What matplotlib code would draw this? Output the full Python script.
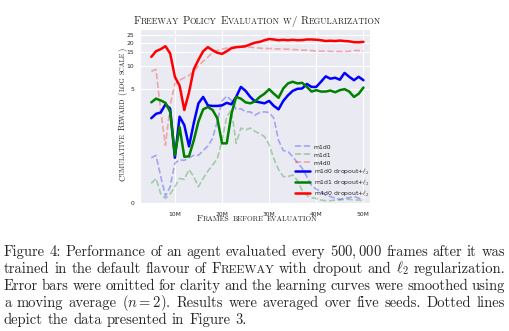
import numpy as np
import matplotlib
matplotlib.use('Agg')
import matplotlib.pyplot as plt
import seaborn as sns

##################### data

frames_m = list(range(5, 51))   # evaluation points, millions of frames

m1d0 = [0.5, 0.55, 0.21, 0.04, 0.11, 0.4, 0.46, 0.45, 0.5, 0.55, 0.55, 0.66, 0.78, 1.03,
        1.8, 3.45, 4.0, 3.5, 2.65, 2.7, 2.45, 2.45, 2.2, 2.4, 2.45, 2.4, 2.0, 0.95, 0.66,
        0.64, 0.52, 0.41, 0.32, 0.21, 0.12, 0.09, 0.07, 0.045, 0.037, 0.027, 0.02, 0.027,
        0.03, 0.037, 0.027, 0.016]
m1d1 = [0.14, 0.19, 0.055, 0.025, 0.055, 0.11, 0.19, 0.18, 0.30, 0.21, 0.11, 0.19, 0.28,
        0.37, 0.48, 0.95, 2.1, 2.6, 0.86, 1.45, 1.36, 1.45, 1.3, 1.2, 1.09, 0.82, 0.48, 0.30,
        0.21, 0.21, 0.23, 0.17, 0.08, 0.045, 0.03, 0.025, 0.016, 0.012, 0.012, 0.016, 0.016,
        0.02, 0.02, 0.016, 0.016, 0.012]
m4d0 = [8.5, 9.0, 2.5, 0.8, 3.0, 5.8, 6.5, 7.0, 7.5, 8.5, 10.0, 11.5, 13.0, 15.0, 15.8,
        16.5, 17.0, 17.2, 17.3, 17.5, 17.4, 17.5, 17.2, 17.0, 16.8, 16.8, 16.7, 16.6, 16.5,
        16.5, 16.3, 16.2, 16.0, 16.0, 15.8, 15.6, 15.5, 15.5, 15.4, 15.3, 15.4, 15.2, 15.5,
        15.8, 15.8, 15.7]
m1d0_reg = [2.0, 2.3, 2.4, 3.1, 2.7, 0.5, 2.1, 1.6, 0.77, 1.7, 3.2, 3.9, 3.0, 2.95, 2.95,
            3.0, 3.25, 3.1, 3.9, 5.3, 4.7, 3.9, 3.4, 3.3, 3.2, 3.45, 2.95, 2.65, 3.45, 4.1,
            4.7, 5.0, 5.05, 5.8, 5.3, 5.3, 6.2, 7.3, 6.8, 7.0, 6.6, 8.1, 7.2, 6.5, 7.2, 6.5]
m1d1_reg = [3.3, 3.7, 3.5, 3.25, 2.45, 0.55, 1.5, 0.52, 0.53, 0.95, 1.8, 2.65, 2.85, 2.6,
            2.0, 0.86, 0.86, 2.3, 3.9, 3.7, 3.3, 3.2, 3.4, 3.9, 4.3, 4.95, 4.3, 3.8, 5.05,
            5.9, 6.2, 5.9, 6.0, 5.3, 4.6, 4.8, 4.6, 4.6, 4.75, 4.5, 4.8, 4.95, 4.6, 3.9, 4.3,
            5.2]
m4d0_reg = [13.1, 15.5, 16.5, 18.0, 14.5, 7.2, 5.5, 2.6, 4.5, 9.0, 12.0, 15.5, 17.5, 16.0,
            14.8, 14.3, 15.5, 17.0, 17.5, 17.7, 18.0, 19.0, 20.0, 20.5, 21.5, 22.3, 22.0,
            21.5, 21.8, 21.5, 21.8, 21.5, 21.6, 22.0, 22.0, 21.8, 21.5, 21.0, 21.2, 21.0,
            21.3, 21.0, 20.8, 20.3, 20.2, 20.5]

y_ticks = [0, 5, 10, 15, 20, 25]
x_ticks_m = [10, 20, 30, 40, 50]

caption = [
    "Figure 4: Performance of an agent evaluated every $500,000$ frames after it was",
    "trained in the default flavour of #Freeway with dropout and $\\ell_2$ regularization.",
    "Error bars were omitted for clarity and the learning curves were smoothed using",
    "a moving average ($n=2$). Results were averaged over five seeds. Dotted lines",
    "depict the data presented in Figure 3.",
]

##################### log-like y scale (0 is shown, so log(1 + y/C))

C = 0.18

def fwd(y):
    y = np.asarray(y, dtype=float)
    return np.sign(y) * np.log1p(np.abs(y) / C)

def inv(t):
    t = np.asarray(t, dtype=float)
    return np.sign(t) * C * np.expm1(np.abs(t))

##################### figure

sns.set_style('darkgrid')
plt.rcParams['mathtext.fontset'] = 'cm'
plt.rcParams['axes.formatter.use_mathtext'] = True

W, H = 509, 331
fig = plt.figure(figsize=(W / 100, H / 100), dpi=100)
ax = fig.add_axes([140 / W, 1 - 204 / H, 230 / W, 175 / H])

x = np.array(frames_m) * 1e6
ax.plot(x, m1d0, '--', color='blue', alpha=0.3, lw=1.2, label='m1d0')
ax.plot(x, m1d1, '--', color='green', alpha=0.3, lw=1.2, label='m1d1')
ax.plot(x, m4d0, '--', color='red', alpha=0.3, lw=1.2, label='m4d0')
ax.plot(x, m1d0_reg, color='blue', lw=1.8, label='m1d0 dropout+$\\ell_2$')
ax.plot(x, m1d1_reg, color='green', lw=1.8, label='m1d1 dropout+$\\ell_2$')
ax.plot(x, m4d0_reg, color='red', lw=1.8, label='m4d0 dropout+$\\ell_2$')

ax.set_yscale('function', functions=(fwd, inv))
ax.set_ylim(-0.006, 30)
ax.set_yticks(y_ticks)
ax.set_yticklabels([str(v) for v in y_ticks])
ax.set_xlim(2.6e6, 51.4e6)
ax.set_xticks([v * 1e6 for v in x_ticks_m])
ax.set_xticklabels([f'{v}M' for v in x_ticks_m])
ax.tick_params(labelsize=4.3, pad=2)
ax.tick_params(axis='y', pad=0.8)

# fixed handle height keeps the plain and the l2 labels evenly spaced
ax.legend(loc='lower right', bbox_to_anchor=(1.0, 0.024), fontsize=4.4, frameon=False,
          handlelength=2.5, handleheight=1.4, handletextpad=0.5, labelspacing=0.12,
          borderaxespad=0, borderpad=0.2)

##################### serif text (small caps faked with two sizes)

renderer = fig.canvas.get_renderer()

def width(s, size):
    t = fig.text(0, 0, s, fontsize=size, family='cmr10')
    w = t.get_window_extent(renderer).width
    t.remove()
    return w

def put(s, size, px, py, rot=0):
    fig.text(px / W, 1 - py / H, s, fontsize=size, family='cmr10', rotation=rot,
             rotation_mode='anchor', ha='left', va='baseline')

def segments(word, big, small, caps):
    if not caps:
        return [[word, big]]
    segs = []
    for ch in word:
        sz = small if ch.islower() else big
        if segs and segs[-1][1] == sz:
            segs[-1][0] += ch.upper()
        else:
            segs.append([ch.upper(), sz])
    return segs

def smallcaps(text, big, small, cx, cy, rot=0):
    words = [segments(w, big, small, True) for w in text.split(' ')]
    ws = [[width(s, sz) for s, sz in w] for w in words]
    space = width('n n', big) - width('nn', big)
    total = sum(sum(w) for w in ws) + space * (len(words) - 1)
    dx, dy = (1, 0) if rot == 0 else (0, -1)
    pos = -total / 2
    for w, wl in zip(words, ws):
        for (s, sz), sw in zip(w, wl):
            put(s, sz, cx + dx * pos, cy + dy * pos, rot)
            pos += sw
        pos += space

smallcaps('Freeway Policy Evaluation w/ Regularization', 7.8, 6.0, 257, 24)
smallcaps('Frames before evaluation', 6.8, 5.3, 257, 221)
smallcaps('Cumulative Reward (log scale)', 6.2, 4.8, 125, 114.5, rot=90)

# justified caption
size = 10.5
x0, x1 = 4, 505
baselines = [256, 273, 290, 307, 324]
for i, line in enumerate(caption):
    words = []
    for w in line.split(' '):
        if w.startswith('#'):
            words.append(segments(w[1:], size, size * 0.8, True))
        else:
            words.append(segments(w, size, size, False))
    ws = [[width(s, sz) for s, sz in w] for w in words]
    used = sum(sum(w) for w in ws)
    if i < len(caption) - 1:
        gap = (x1 - x0 - used) / (len(words) - 1)
    else:
        gap = width('n n', size) - width('nn', size)
    pos = x0
    for w, wl in zip(words, ws):
        for (s, sz), sw in zip(w, wl):
            put(s, sz, pos, baselines[i])
            pos += sw
        pos += gap

fig.savefig('out.png', dpi=100)
